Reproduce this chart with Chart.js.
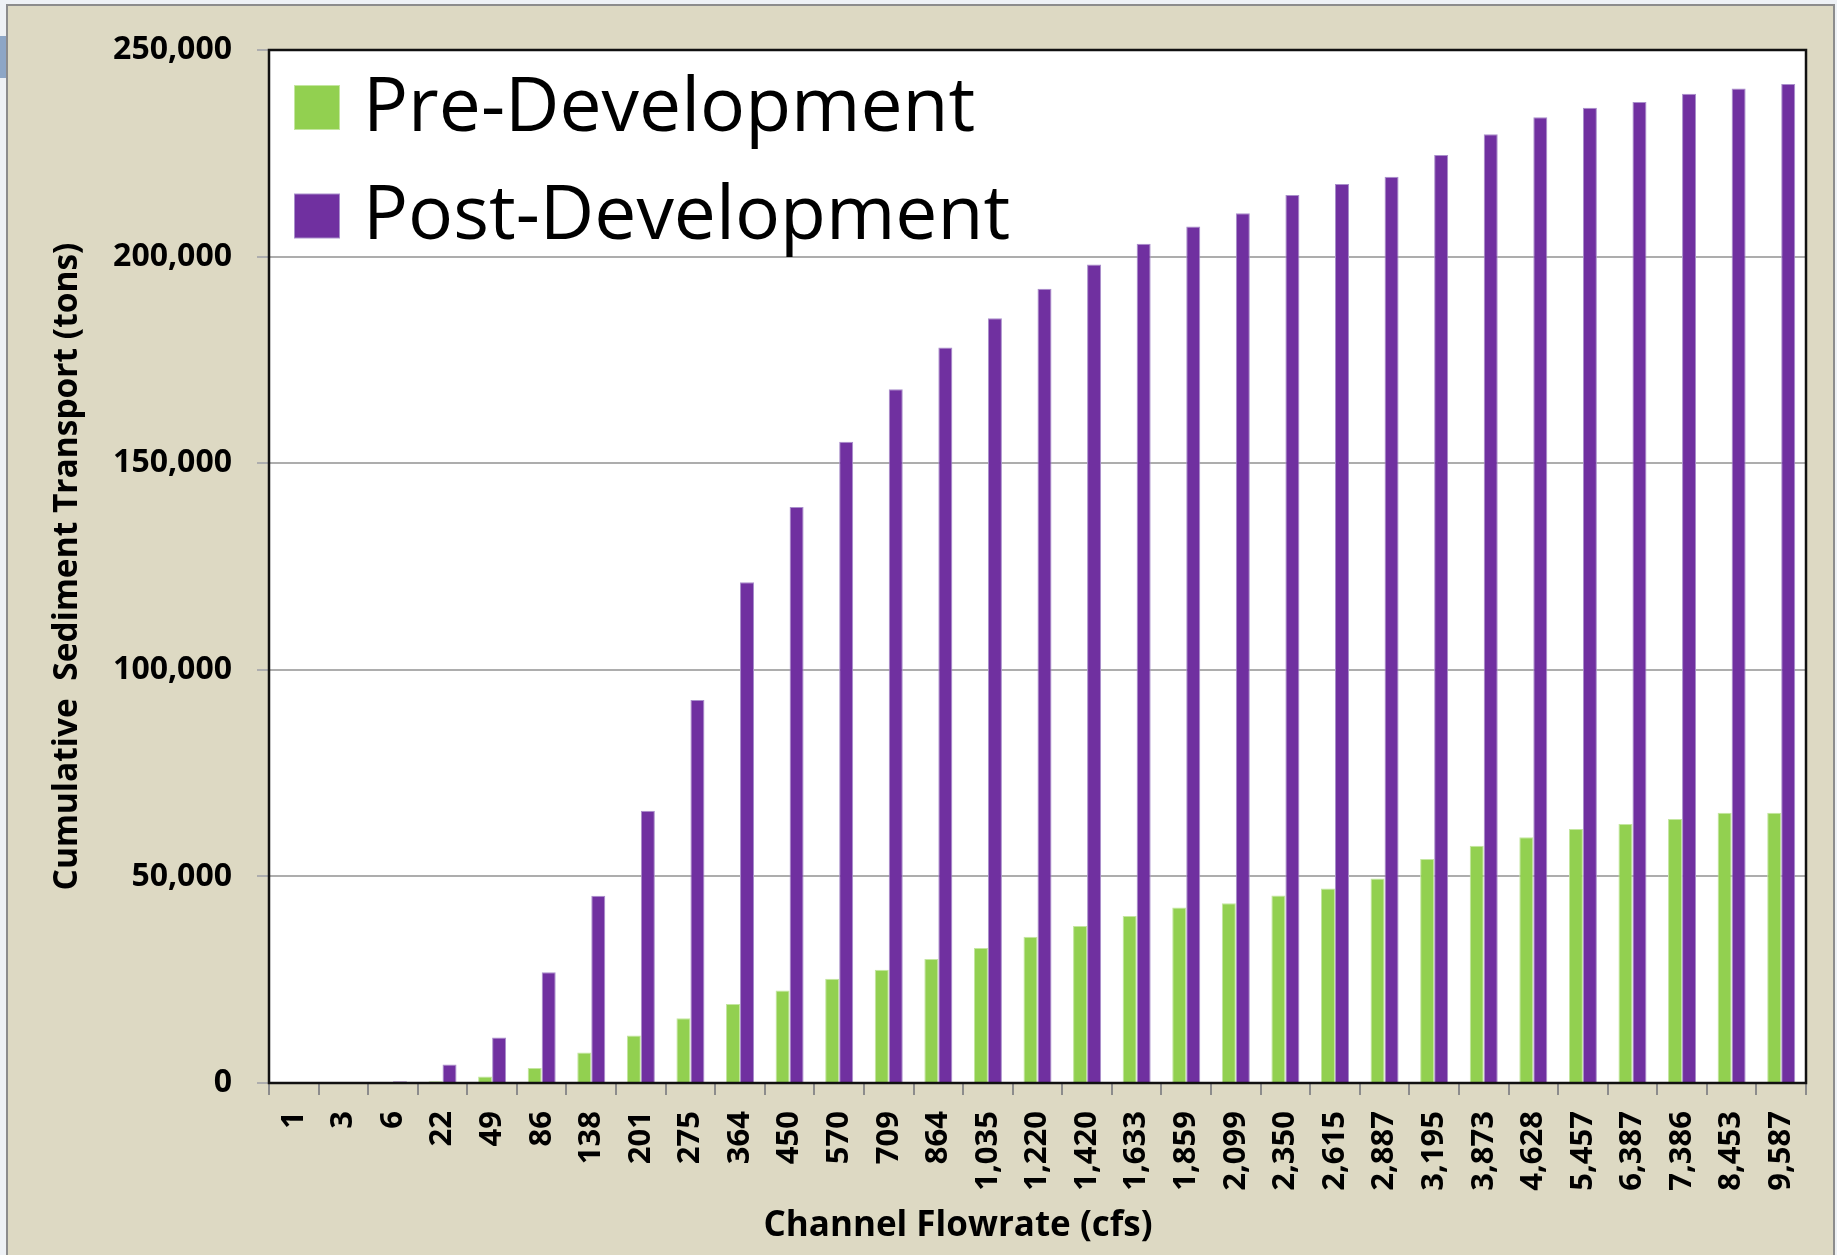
<!DOCTYPE html>
<html>
<head>
<meta charset="utf-8">
<title>Cumulative Sediment Transport</title>
<script src="https://cdn.jsdelivr.net/npm/chart.js@4.4.1/dist/chart.umd.min.js"></script>
<style>
	html, body { margin: 0; padding: 0; background: #eef1f5; overflow: hidden; }
	#edge { position: absolute; left: 0; top: 36px; width: 6px; height: 42px; background: #8da6c6; }
	#frame { position: absolute; left: 6px; top: 4px; width: 1829px; height: 1280px; background: #ddd9c3; border: 2px solid #8c8c8c; box-sizing: border-box; }
	#sedchart { position: absolute; left: 0; top: 0; }
</style>
</head>
<body>
<div id="edge"></div>
<div id="frame"></div>
<canvas id="sedchart" width="1837" height="1255"></canvas>
<script>
// channel flowrate categories (cfs)
var flowrates = ['1', '3', '6', '22', '49', '86', '138', '201', '275', '364', '450', '570', '709', '864',
	'1,035', '1,220', '1,420', '1,633', '1,859', '2,099', '2,350', '2,615', '2,887', '3,195', '3,873',
	'4,628', '5,457', '6,387', '7,386', '8,453', '9,587'];

// cumulative sediment transport (tons)
var preDevelopment = [50, 80, 150, 400, 1600, 3600, 7400, 11500, 15700, 19100, 22400, 25200, 27400, 30000,
	32700, 35400, 38000, 40400, 42500, 43500, 45400, 47100, 49500, 54200, 57400,
	59500, 61500, 62700, 63900, 65400, 65400];
var postDevelopment = [150, 200, 400, 4500, 11000, 26800, 45300, 65900, 92700, 121200, 139400, 155200, 167900, 178000,
	185100, 192200, 198100, 203100, 207300, 210500, 214900, 217600, 219300, 224600, 229600,
	233700, 236000, 237400, 239400, 240700, 241800];

var yTicks = [0, 50000, 100000, 150000, 200000, 250000];

var yTitle = 'Cumulative  Sediment Transport (tons)';
var xTitle = 'Channel Flowrate (cfs)';

Chart.defaults.font.family = '"Open Sans", sans-serif';
Chart.defaults.color = '#000';

// white plot area, black frame, legend inside the plot and the x title
var plotBox = {
	id: 'plotBox',
	beforeDraw: function(chart) {
		var a = chart.chartArea, ctx = chart.ctx;
		ctx.save();
		ctx.fillStyle = '#ffffff';
		ctx.fillRect(a.left, a.top, a.right - a.left, a.bottom - a.top);
		ctx.restore();
	},
	afterDraw: function(chart) {
		var a = chart.chartArea, ctx = chart.ctx;
		ctx.save();
		ctx.strokeStyle = '#111';
		ctx.lineWidth = 2.5;
		ctx.strokeRect(a.left, a.top, a.right - a.left, a.bottom - a.top);

		// legend
		ctx.font = '75px "Open Sans"';
		ctx.textAlign = 'left';
		ctx.textBaseline = 'alphabetic';
		chart.data.datasets.forEach(function(ds, i) {
			var bx = a.left + 25, by = a.top + 35 + i * 108.5;
			ctx.fillStyle = ds.borderColor;
			ctx.fillRect(bx, by, 46, 45);
			ctx.fillStyle = ds.backgroundColor;
			ctx.fillRect(bx + 1, by + 1, 44, 43);
			ctx.fillStyle = '#000';
			ctx.fillText(ds.label, a.left + 94, a.top + 81 + i * 108);
		});

		// x axis title
		ctx.font = 'bold 35px "Open Sans"';
		ctx.textAlign = 'center';
		ctx.textBaseline = 'middle';
		ctx.fillText(xTitle, a.left + 689, chart.height - 29);
		ctx.restore();
	}
};

var ctx = document.getElementById('sedchart');

var sedChart = new Chart(ctx, {
	type: 'bar',
	data: {
		labels: flowrates,
		datasets: [
			{
				label: 'Pre-Development',
				data: preDevelopment,
				backgroundColor: '#92d050',
				borderColor: '#c4e6a0',
				borderWidth: 1
			},
			{
				label: 'Post-Development',
				data: postDevelopment,
				backgroundColor: '#7030a0',
				borderColor: '#a98fcb',
				borderWidth: 1
			}
		]
	},
	options: {
		responsive: false,
		animation: false,
		devicePixelRatio: 1,
		categoryPercentage: 0.565,
		barPercentage: 1.0,
		layout: {
			padding: { top: 50, right: 31, bottom: 0, left: 0 }
		},
		plugins: {
			legend: { display: false },
			tooltip: { enabled: false }
		},
		scales: {
			x: {
				afterFit: function(scale) { scale.height = 172; },
				border: { display: false },
				grid: {
					offset: true,
					drawOnChartArea: false,
					drawTicks: true,
					tickLength: 12,
					color: '#8c8c8c',
					lineWidth: 2
				},
				ticks: {
					autoSkip: false,
					maxRotation: 90,
					minRotation: 90,
					padding: 16,
					font: { size: 31, weight: 'bold' }
				}
			},
			y: {
				min: yTicks[0],
				max: yTicks[yTicks.length - 1],
				afterFit: function(scale) { scale.width = 269; },
				border: { display: false },
				grid: {
					color: '#adadad',
					lineWidth: 2,
					drawTicks: true,
					tickLength: 12
				},
				ticks: {
					stepSize: yTicks[1] - yTicks[0],
					padding: 25,
					font: { size: 32, weight: 'bold' },
					callback: function(v) { return v.toLocaleString('en-US'); }
				},
				title: {
					display: true,
					text: yTitle,
					padding: { top: 47, bottom: 0 },
					font: { size: 33.5, weight: 'bold' }
				}
			}
		}
	},
	plugins: [plotBox]
});
</script>
</body>
</html>
